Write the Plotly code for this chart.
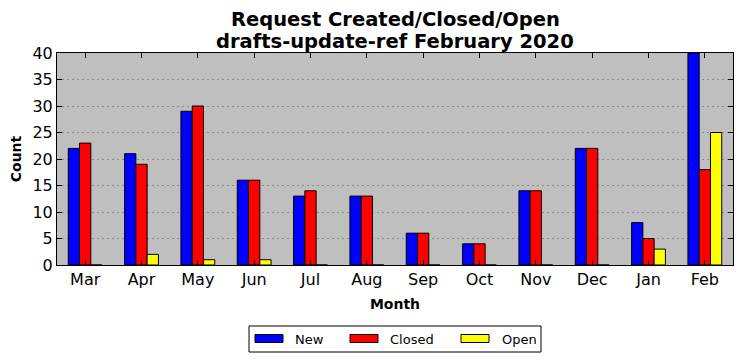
import plotly.graph_objects as go

months = ["Mar", "Apr", "May", "Jun", "Jul", "Aug", "Sep", "Oct", "Nov", "Dec", "Jan", "Feb"]
new_vals = [22, 21, 29, 16, 13, 13, 6, 4, 14, 22, 8, 40]
closed_vals = [23, 19, 30, 16, 14, 13, 6, 4, 14, 22, 5, 18]
open_vals = [0, 2, 1, 1, 0, 0, 0, 0, 0, 0, 3, 25]
y_ticks = [0, 5, 10, 15, 20, 25, 30, 35, 40]
series = [("New", new_vals, "#0000ff"), ("Closed", closed_vals, "#ff0000"), ("Open", open_vals, "#ffff00")]

FONT = "DejaVu Sans"
L, R, T, B = 57, 9, 53, 96
W, H = 742, 361
PW, PH = W - L - R, H - T - B

def px(x):
    return (x - L) / PW

def py(y):
    return (H - B - y) / PH

fig = go.Figure()
for name, vals, col in series:
    fig.add_trace(go.Bar(x=list(range(len(months))), y=vals, name=name, showlegend=False,
                         hoverinfo="skip",
                         marker=dict(color=col, line=dict(color="black", width=1))))

shapes = [dict(type="rect", xref="paper", yref="paper", x0=px(249), x1=px(541), y0=py(352), y1=py(326),
               line=dict(color="black", width=1), fillcolor="white", layer="above")]
annotations = [
    dict(text="<b>Request Created/Closed/Open</b>", xref="paper", yref="paper", x=0.5, y=py(19.5),
         xanchor="center", yanchor="middle", showarrow=False, font=dict(size=19.5, family=FONT)),
    dict(text="<b>drafts-update-ref February 2020</b>", xref="paper", yref="paper", x=0.5, y=py(41.5),
         xanchor="center", yanchor="middle", showarrow=False, font=dict(size=19.5, family=FONT)),
]
sw = [(255, 293), (350, 388), (461, 500)]
for (name, vals, col), (sx, tx) in zip(series, sw):
    shapes.append(dict(type="rect", xref="paper", yref="paper", x0=px(sx), x1=px(sx + 28),
                       y0=py(342.5), y1=py(334.5), fillcolor=col, line=dict(color="black", width=1),
                       layer="above"))
    annotations.append(dict(text=name, xref="paper", yref="paper", x=px(tx), y=py(339),
                            xanchor="left", yanchor="middle", showarrow=False,
                            font=dict(size=13, family=FONT)))

fig.update_layout(
    width=W, height=H,
    margin=dict(l=L, r=R, t=T, b=B),
    paper_bgcolor="white", plot_bgcolor="#bfbfbf",
    barmode="group", bargap=0.4, bargroupgap=0,
    font=dict(family=FONT, color="black"),
    showlegend=False, hovermode=False,
    shapes=shapes, annotations=annotations,
)
fig.update_xaxes(
    range=[-0.5, 11.5], tickmode="array", tickvals=list(range(len(months))), ticktext=months,
    ticks="inside", ticklen=5, tickcolor="black", showline=True, linecolor="black", linewidth=1,
    mirror="ticks", showgrid=False, tickfont=dict(size=16), automargin=False,
    title=dict(text="<b>Month</b>", font=dict(size=14), standoff=10),
)
fig.update_yaxes(
    range=[0, 40], tickmode="array", tickvals=y_ticks,
    ticks="inside", ticklen=5, tickcolor="black", showline=True, linecolor="black", linewidth=1,
    mirror="ticks", showgrid=True, gridcolor="#8a8a8a", griddash="2px,3px", gridwidth=1,
    zeroline=False, tickfont=dict(size=16), automargin=False,
    title=dict(text="<b>Count</b>", font=dict(size=14), standoff=7),
)
fig.write_html("out.html", config={"displayModeBar": False, "staticPlot": True},
               post_script="document.body.style.margin='0px';document.body.style.overflow='hidden';")
